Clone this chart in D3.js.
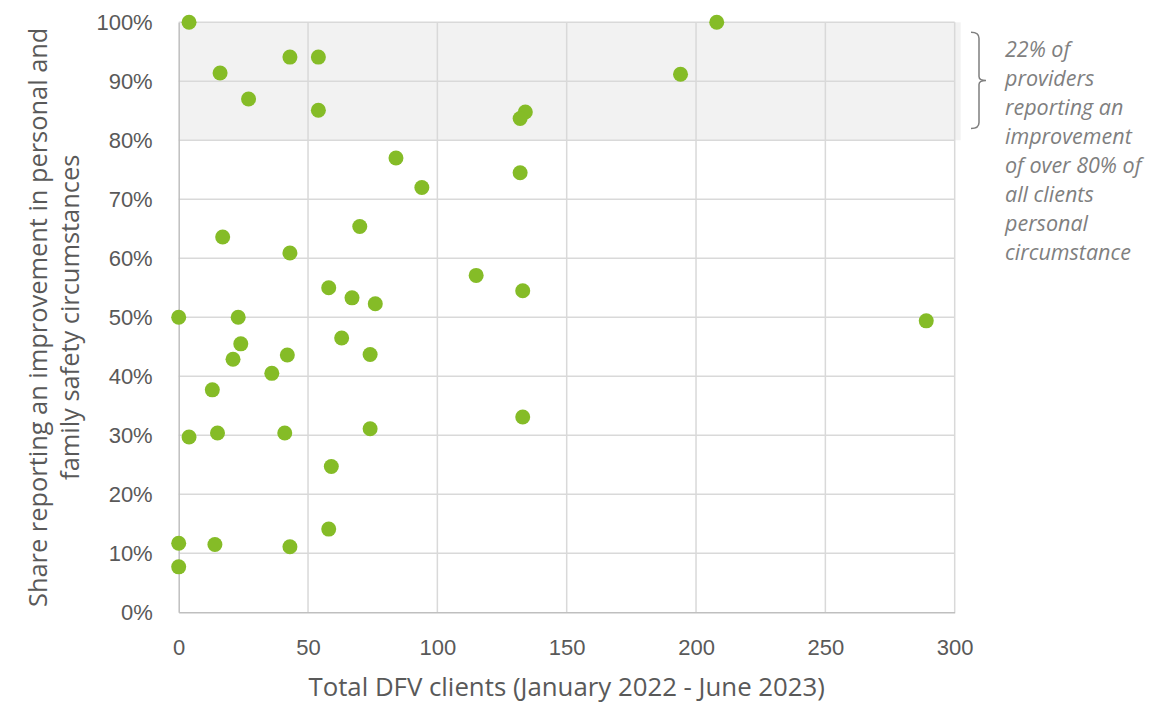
<!DOCTYPE html>
<html>
<head>
<meta charset="utf-8">
<script src="https://cdn.jsdelivr.net/npm/d3@7"></script>
<style>
  html, body { margin: 0; padding: 0; background: #ffffff; }
  svg { display: block; font-family: "Open Sans", "Noto Sans", sans-serif; }
</style>
</head>
<body>
<svg id="chart" width="1171" height="703"></svg>
<script>
// Total DFV clients per provider (January 2022 - June 2023)
const clients = [
  4, 208, 43, 54, 16, 194, 27, 54, 134, 132,
  84, 94, 132, 70, 17, 43, 115, 58, 67, 76,
  133, 0, 23, 289, 24, 63, 21, 42, 74, 36,
  13, 4, 15, 41, 74, 133, 59, 58, 0, 14,
  43, 0
];
// Share of clients reporting an improvement in personal and family safety circumstances
const shareImproved = [
  1.000, 1.000, 0.941, 0.941, 0.914, 0.912, 0.870, 0.851, 0.848, 0.837,
  0.770, 0.720, 0.745, 0.654, 0.636, 0.609, 0.571, 0.550, 0.533, 0.523,
  0.545, 0.500, 0.500, 0.494, 0.455, 0.465, 0.429, 0.436, 0.437, 0.405,
  0.377, 0.297, 0.304, 0.304, 0.311, 0.331, 0.247, 0.141, 0.117, 0.115,
  0.111, 0.077
];
const xTicks = [0, 50, 100, 150, 200, 250, 300];
const yTicks = [0, 0.1, 0.2, 0.3, 0.4, 0.5, 0.6, 0.7, 0.8, 0.9, 1.0];
const highlightBand = [0.8, 1.0];
const xTitle = "Total DFV clients (January 2022 - June 2023)";
const yTitleLines = ["Share reporting an improvement in personal and", "family safety circumstances"];
const noteLines = ["22% of", "providers", "reporting an", "improvement", "of over 80% of", "all clients", "personal", "circumstance"];

const svg = d3.select("#chart");
const plot = { left: 178.7, right: 954.7, top: 22.3, bottom: 612.3 };

const x = d3.scaleLinear().domain([0, 300]).range([plot.left, plot.right]);
const y = d3.scaleLinear().domain([0, 1]).range([plot.bottom, plot.top]);

// shaded band for providers above 80%
svg.append("rect")
  .attr("x", plot.left)
  .attr("y", y(highlightBand[1]))
  .attr("width", plot.right - plot.left + 6)
  .attr("height", y(highlightBand[0]) - y(highlightBand[1]))
  .attr("fill", "#f2f2f2");

// gridlines
const grid = svg.append("g").attr("stroke", "#d9d9d9").attr("stroke-width", 1.5);
grid.selectAll("line.h").data(yTicks.slice(1)).join("line")
  .attr("x1", plot.left).attr("x2", plot.right)
  .attr("y1", d => y(d)).attr("y2", d => y(d));
grid.selectAll("line.v").data(xTicks.slice(1)).join("line")
  .attr("x1", d => x(d)).attr("x2", d => x(d))
  .attr("y1", plot.top).attr("y2", plot.bottom);

// axes
const xAxis = d3.axisBottom(x).tickValues(xTicks).tickSize(0).tickPadding(27);
const gx = svg.append("g").attr("transform", `translate(0,${plot.bottom})`).call(xAxis);
gx.select(".domain").attr("stroke", "#bfbfbf").attr("stroke-width", 1.5);
gx.selectAll("text").attr("fill", "#595959").style("font-size", "22px");

const yAxis = d3.axisLeft(y).tickValues(yTicks).tickSize(0).tickPadding(26).tickFormat(d3.format(".0%"));
const gy = svg.append("g").attr("transform", `translate(${plot.left},0)`).call(yAxis);
gy.select(".domain").attr("stroke", "#bfbfbf").attr("stroke-width", 1.5);
gy.selectAll("text").attr("fill", "#595959").style("font-size", "22px");

// data points
svg.append("g").selectAll("circle")
  .data(clients.map((c, i) => [c, shareImproved[i]]))
  .join("circle")
  .attr("cx", d => x(d[0]))
  .attr("cy", d => y(d[1]))
  .attr("r", 7.5)
  .attr("fill", "#85bc27");

// axis titles
svg.append("text")
  .attr("x", (plot.left + plot.right) / 2)
  .attr("y", 696)
  .attr("text-anchor", "middle")
  .attr("fill", "#595959")
  .style("font-size", "25.8px")
  .text(xTitle);

const yt = svg.append("text")
  .attr("transform", `translate(47,${(plot.top + plot.bottom) / 2}) rotate(-90)`)
  .attr("text-anchor", "middle")
  .attr("fill", "#595959")
  .style("font-size", "25.4px");
yt.selectAll("tspan").data(yTitleLines).join("tspan")
  .attr("x", 0)
  .attr("dy", (d, i) => i === 0 ? 0 : 32)
  .text(d => d);

// bracket marking the band
const bTop = y(0.983), bBot = y(0.82), bMid = (bTop + bBot) / 2;
svg.append("path")
  .attr("d", `M971,${bTop} Q979,${bTop} 979,${bTop + 6} L979,${bMid - 4} Q979,${bMid} 986,${bMid} Q979,${bMid} 979,${bMid + 4} L979,${bBot - 6} Q979,${bBot} 971,${bBot}`)
  .attr("fill", "none")
  .attr("stroke", "#7f7f7f")
  .attr("stroke-width", 1.5);

// annotation
svg.append("text")
  .attr("fill", "#7f7f7f")
  .style("font-size", "21.5px")
  .style("font-style", "italic")
  .selectAll("tspan").data(noteLines).join("tspan")
  .attr("x", 1005)
  .attr("y", (d, i) => 57 + i * 29)
  .text(d => d);
</script>
</body>
</html>
